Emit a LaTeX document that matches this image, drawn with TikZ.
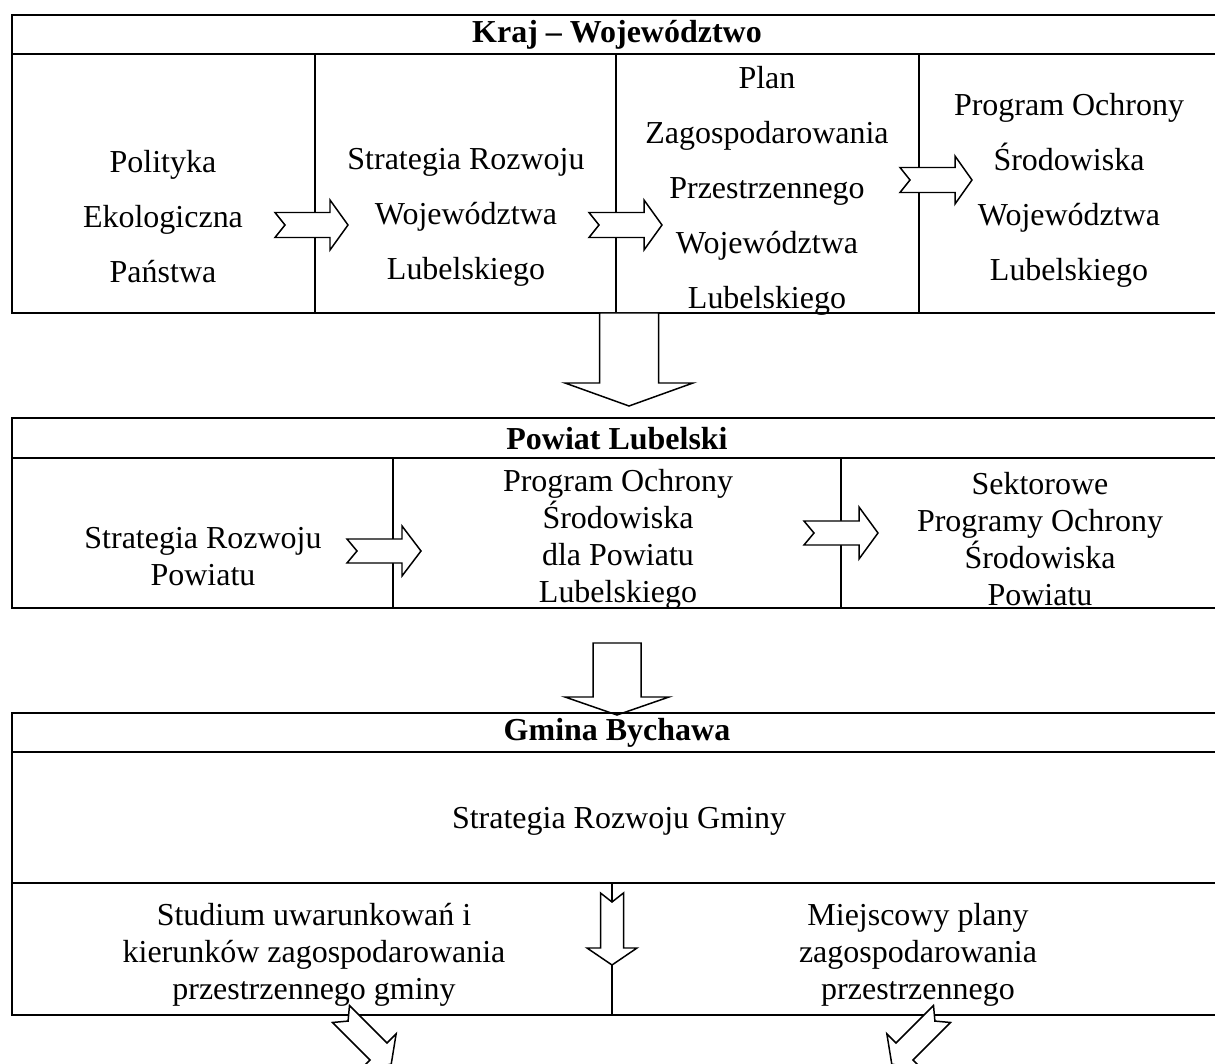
\documentclass[tikz,border=0pt]{standalone}
\usepackage{fontspec}
\setmainfont{Liberation Serif}
\begin{document}
\begin{tikzpicture}[
    x=0.02cm, y=-0.02cm,
    frame/.style={line width=1.7pt},
    divider/.style={line width=1.1pt},
    text_wide/.style={align=center, inner sep=0pt, font=\fontsize{18.2}{31.3}\selectfont},
    text_tight/.style={align=center, inner sep=0pt, font=\fontsize{18.2}{21.1}\selectfont},
    heading/.style={inner sep=0pt, font=\fontsize{18.2}{21}\selectfont\bfseries},
    arrow_body/.style={draw, fill=white, line width=0.85pt},
    pics/block_arrow/.style n args={5}{code={
        \draw[arrow_body] (0,-#2) -- (#1,-#2) -- (#1,-#3) -- ({#1+#4},0)
            -- (#1,#3) -- (#1,#2) -- (0,#2) -- (#5,0) -- cycle;
    }}
]
\useasboundingbox (0,0) rectangle (1215,1064);
% Poziom 1 : kraj i wojewodztwo
\draw[frame] (12,15) rectangle (1222,313);
\draw[frame] (12,54) -- (1222,54);
\foreach \x in {315,616,919} {
    \draw[divider] (\x,54) -- (\x,313);
}
\node[heading] (kraj) at (617,35) {Kraj – Województwo};
\node[text_wide] (polityka) at (163,217) {Polityka\\Ekologiczna\\Państwa};
\node[text_wide] (strategia_woj) at (466,217) {Strategia Rozwoju\\Województwa\\Lubelskiego};
\node[text_wide] (plan_woj) at (767,191) {Plan\\Zagospodarowania\\Przestrzennego\\Województwa\\Lubelskiego};
\node[text_wide] (program_woj) at (1069,190) {Program Ochrony\\Środowiska\\Województwa\\Lubelskiego};
\pic at (275,225) {block_arrow={55}{12.5}{25}{18}{10}};
\pic at (589,225) {block_arrow={55}{12.5}{25}{18}{10}};
\pic at (900,180) {block_arrow={55}{12.5}{24}{17}{10}};
\pic[rotate=-90] at (629,313) {block_arrow={70}{29.5}{64}{23}{0}};
% Poziom 2 : powiat
\draw[frame] (12,418) rectangle (1222,608);
\draw[frame] (12,458) -- (1222,458);
\foreach \x in {393,841} {
    \draw[divider] (\x,458) -- (\x,608);
}
\node[heading] (powiat) at (617,439) {Powiat Lubelski};
\node[text_tight] (strategia_pow) at (203,557) {Strategia Rozwoju\\Powiatu};
\node[text_tight] (program_pow) at (618,539) {Program Ochrony\\Środowiska\\dla Powiatu\\Lubelskiego};
\node[text_tight] (sektorowe) at (1040,539) {Sektorowe\\Programy Ochrony\\Środowiska\\Powiatu};
\pic at (347,551) {block_arrow={55}{12}{25}{19}{10}};
\pic at (804,533) {block_arrow={55}{12}{26}{19}{10}};
\pic[rotate=-90] at (617,643) {block_arrow={54}{24}{52}{18}{0}};
% Poziom 3 : gmina
\draw[frame] (12,713) rectangle (1222,1015);
\draw[frame] (12,752) -- (1222,752);
\draw[frame] (12,883) -- (1222,883);
\draw[divider] (612,883) -- (612,1015);
\node[heading] (gmina) at (617,733) {Gmina Bychawa};
\node[text_tight] (strategia_gm) at (619,821) {Strategia Rozwoju Gminy};
\node[text_tight] (studium) at (314,955) {Studium uwarunkowań i\\kierunków zagospodarowania\\przestrzennego gminy};
\node[text_tight] (miejscowy) at (918,955) {Miejscowy plany\\zagospodarowania\\przestrzennego};
\pic[rotate=-90] at (612,893) {block_arrow={55}{11.5}{25}{17}{9}};
\pic[rotate=-45] at (341,1014) {block_arrow={53}{12}{25}{18}{10}};
\pic[rotate=-135] at (942,1014) {block_arrow={53}{12}{25}{18}{10}};
\end{tikzpicture}
\end{document}
